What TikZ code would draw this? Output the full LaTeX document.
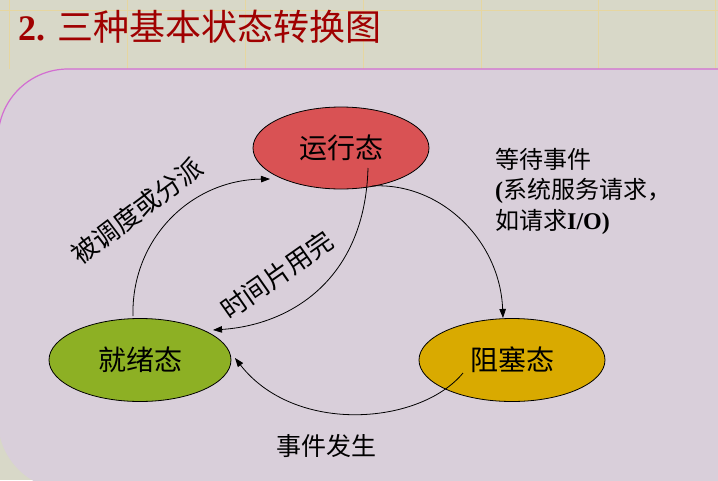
\documentclass[tikz,border=0pt]{standalone}
\usepackage{fontspec}
\setmainfont{Liberation Serif}
\newfontfamily\cjk{Noto Sans CJK SC}
\usetikzlibrary{arrows.meta,shapes.geometric,calc}
\definecolor{bgtop}{RGB}{216,216,200}
\definecolor{gridc}{RGB}{230,214,160}
\definecolor{panel}{RGB}{217,207,218}
\definecolor{panelline}{RGB}{210,110,210}
\definecolor{titlered}{RGB}{160,0,0}
\definecolor{runc}{RGB}{217,82,84}
\definecolor{readyc}{RGB}{141,176,36}
\definecolor{blockc}{RGB}{217,170,0}
\begin{document}
\begin{tikzpicture}[x=1pt,y=-1pt,
  state/.style={ellipse, draw=black, line width=0.8pt, inner sep=0pt,
    font=\cjk\fontsize{28}{30}\selectfont},
  conn/.style={line width=0.8pt, -{Triangle[length=9pt,width=6.5pt]}},
  lbl/.style={inner sep=0pt, font=\cjk\fontsize{26}{28}\selectfont}
]
\useasboundingbox (0,0) rectangle (718,480);
\fill[bgtop] (0,0) rectangle (718,480);
% faint grid
\foreach \gx in {9,127,245,363,481,598,715}
  \draw[gridc, line width=0.7pt] (\gx,0) -- (\gx,69);
\draw[gridc, line width=0.7pt] (0,10) -- (718,10);
% panel
\fill[panel] (730,69) [rounded corners=70pt] -- (-2,69) -- (-2,490) [sharp corners] -- (730,490) -- cycle;
\draw[panelline, line width=1.2pt, rounded corners=70pt] (730,69) -- (-2,69) -- (-2,490);
% title
\node[anchor=base west, inner sep=0pt, text=titlered] (title) at (18,40)
  {{\fontsize{36}{40}\selectfont\bfseries 2.}\hspace{12pt}{\cjk\fontsize{36}{40}\selectfont 三种基本状态转换图}};
% states
\node[state, fill=runc, minimum width=176pt, minimum height=82pt] (run) at (341,148) {运行态};
\node[state, fill=readyc, minimum width=182pt, minimum height=83pt] (ready) at (140,360) {就绪态};
\node[state, fill=blockc, minimum width=186pt, minimum height=83pt] (block) at (512,360) {阻塞态};
% connector ends
\coordinate (rdyTop) at ($(ready.center)+(-7,-44)$);
\coordinate (runIn) at ($(run.center)+(-71,31)$);
\coordinate (runA) at ($(run.center)+(27,20)$);
\coordinate (rdyIn) at ($(ready.center)+(73,-30)$);
\coordinate (runB) at ($(run.center)+(31,38)$);
\coordinate (blkIn) at ($(block.center)+(-9,-42)$);
\coordinate (blkA) at ($(block.center)+(-49,13)$);
\coordinate (rdyIn2) at ($(ready.center)+(95,-2)$);
% connectors
\draw[conn] (rdyTop) .. controls (131,240) and (190,180) .. (runIn);
\draw[conn] (runA) .. controls (365,280) and (290,325) .. (rdyIn);
\draw[conn] (runB) .. controls (440,182) and (500,240) .. (blkIn);
\draw[conn] (blkA) .. controls (420,425) and (295,435) .. (rdyIn2);
% labels
\node[lbl, rotate=37] (l1) at (137,211) {被调度或分派};
\node[lbl, rotate=35] (l2) at (277,275) {时间片用完};
\node[anchor=north west, inner sep=0pt, align=left, font=\fontsize{24}{30.5}\selectfont] (l3) at (495,148)
  {{\cjk 等待事件}\\{\bfseries(}{\cjk 系统服务请求，}\\{\cjk 如请求}{\bfseries I/O)}};
\node[inner sep=0pt, font=\cjk\fontsize{25}{28}\selectfont] (l4) at (326,446) {事件发生};
\end{tikzpicture}
\end{document}
